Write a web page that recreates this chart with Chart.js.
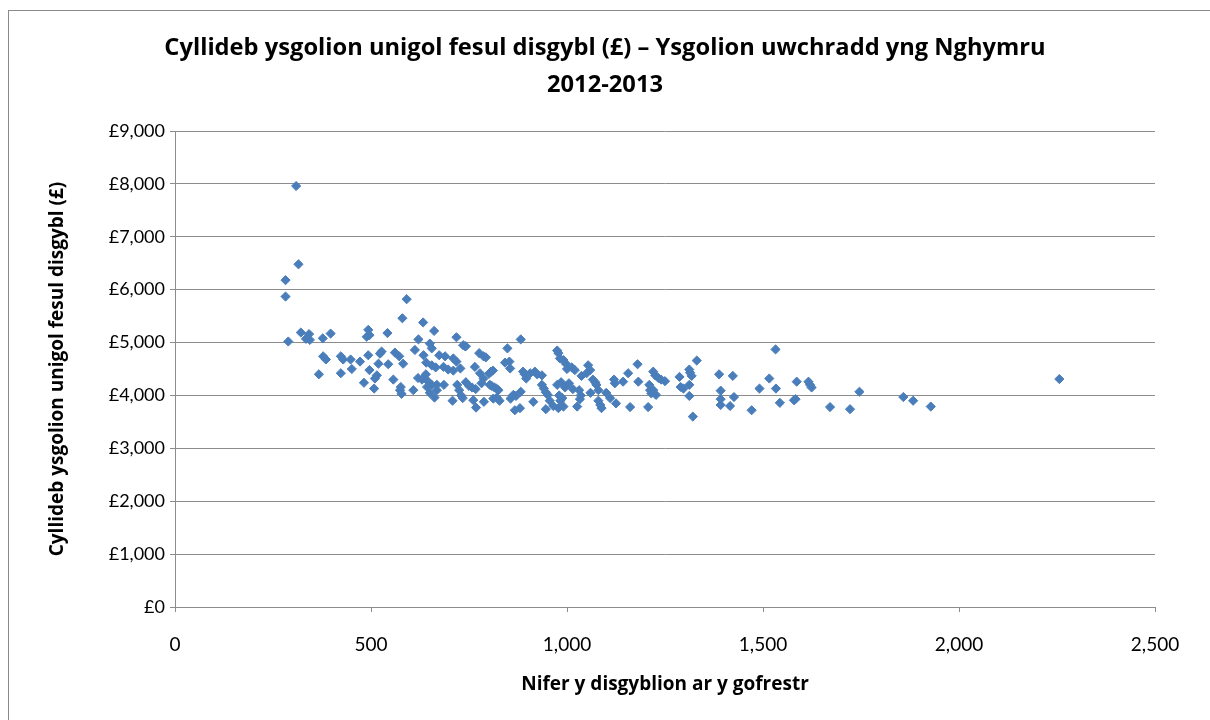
<!DOCTYPE html>
<html>
<head>
<meta charset="utf-8">
<script src="https://cdn.jsdelivr.net/npm/chart.js@4.4.1/dist/chart.umd.min.js"></script>
<style>
  html, body { margin: 0; padding: 0; background: #fff; overflow: hidden; }
  #frame { position: absolute; left: 8px; top: 10px; width: 1220px; height: 730px; border: 1.5px solid #8a8a8a; box-sizing: border-box; }
  #wrap { position: absolute; left: 0; top: 0; width: 1210px; height: 720px; }
</style>
</head>
<body>
<div id="frame"></div>
<div id="wrap"><canvas id="c" width="1210" height="720"></canvas></div>
<script>
const titleLines = ["Cyllideb ysgolion unigol fesul disgybl (£) – Ysgolion uwchradd yng Nghymru", "2012-2013"];
const xAxisTitle = "Nifer y disgyblion ar y gofrestr";
const yAxisTitle = "Cyllideb ysgolion unigol fesul disgybl (£)";
const xTicks = [0, 500, 1000, 1500, 2000, 2500];
const yTicks = [0, 1000, 2000, 3000, 4000, 5000, 6000, 7000, 8000, 9000];

const pupils = [
 309,315,282,282,289,321,334,342,344,377,397,378,385,367,423,429,448,423,451,472,
 493,496,489,493,496,482,508,515,519,523,527,510,542,544,557,561,572,582,580,591,
 574,578,576,608,620,630,640,645,655,612,621,633,634,650,655,661,641,655,665,643,
 650,662,668,674,689,685,686,668,697,710,718,718,740,710,728,708,720,725,730,734,
 735,742,776,787,793,765,778,787,782,742,750,758,767,761,768,788,801,806,811,803,
 808,815,820,825,812,821,828,842,853,855,888,892,906,896,863,870,856,867,880,882,
 882,848,914,918,924,936,936,941,946,951,946,956,965,975,978,982,991,997,1000,1012,
 1020,975,985,995,1005,1015,980,988,983,978,991,1031,1035,1033,1026,1037,1054,1059,1050,1066,
 1072,1075,1080,1060,1080,1085,1088,1100,1110,1125,1120,1122,1143,1156,1180,1182,1161,1207,1212,1210,
 1220,1225,1233,1240,1250,1220,1215,1227,1287,1290,1297,1312,1314,1318,1312,1312,1331,1321,1388,1423,
 1392,1392,1392,1426,1416,1471,1491,1516,1532,1533,1543,1579,1583,1586,1616,1620,1624,1671,1722,1746,
 1858,1883,1928,2256
];
const budget = [
 7960,6480,6180,5870,5020,5190,5070,5160,5050,5080,5170,4740,4680,4400,4740,4680,4680,4420,4500,4640,
 5240,5140,5110,4760,4480,4240,4130,4380,4600,4790,4830,4320,5180,4590,4300,4810,4740,4600,5460,5820,
 4100,4030,4160,4100,4330,4300,4400,4270,4200,4860,5060,5380,4760,4980,4890,5220,4620,4570,4530,4160,
 4050,3960,4100,4760,4740,4540,4200,4200,4490,4700,4640,5100,4930,4470,4510,3900,4200,4100,4000,3950,
 4950,4930,4800,4740,4720,4540,4420,4320,4230,4250,4180,4150,4120,3910,3770,3880,4410,4450,4470,4200,
 4180,4150,4130,4100,3940,3960,3900,4620,4640,4510,4450,4400,4420,4320,4010,3990,3940,3720,3760,4070,
 5060,4890,3880,4450,4400,4380,4200,4130,4060,4010,3740,3900,3800,4850,4800,4700,4670,4600,4500,4530,
 4480,4200,4250,4150,4230,4120,4000,3950,3900,3760,3790,4100,4000,3930,3790,4370,4570,4480,4420,4300,
 4250,4200,4100,4050,3900,3820,3760,4050,3950,3850,4300,4230,4260,4420,4590,4260,3780,3780,4100,4200,
 4450,4380,4330,4300,4270,4100,4040,4010,4350,4160,4130,4490,4430,4370,4200,3990,4660,3600,4400,4370,
 4090,3930,3820,3970,3800,3720,4130,4320,4870,4130,3860,3910,3930,4260,4260,4200,4150,3780,3740,4070,
 3970,3900,3790,4310
];

const points = pupils.map((p, i) => ({ x: p, y: budget[i] }));

const FONT = "Lato, 'Open Sans', sans-serif";
const BOLD_FONT = "'Open Sans', Lato, sans-serif";
const gridGray = '#8c8c8c';

new Chart(document.getElementById('c'), {
  type: 'scatter',
  data: {
    datasets: [{
      data: points,
      pointStyle: 'rectRot',
      pointRadius: 4.6,
      pointHoverRadius: 4.6,
      backgroundColor: '#4A7EBB',
      borderColor: '#4A7EBB',
      borderWidth: 1
    }]
  },
  options: {
    responsive: false,
    animation: false,
    events: [],
    layout: { autoPadding: false, padding: { left: 0, right: 0, top: 0, bottom: 0 } },
    plugins: {
      legend: { display: false },
      tooltip: { enabled: false },
      title: {
        display: true,
        text: titleLines,
        color: '#000',
        font: { family: BOLD_FONT, size: 23.7, weight: 'bold', lineHeight: '37px' },
        padding: { top: 29.5, bottom: 27.5 }
      }
    },
    scales: {
      x: {
        type: 'linear',
        min: 0, max: 2500,
        afterBuildTicks: s => { s.ticks = xTicks.map(v => ({ value: v })); },
        afterFit: s => { s.height = 113; },
        ticks: {
          color: '#000',
          font: { family: FONT, size: 19 },
          padding: 21,
          maxRotation: 0,
          callback: v => v.toLocaleString('en-GB')
        },
        grid: { display: true, drawOnChartArea: false, drawTicks: true, tickLength: 5, color: gridGray },
        border: { display: true, color: gridGray, width: 1 },
        title: {
          display: true,
          text: xAxisTitle,
          color: '#000',
          font: { family: BOLD_FONT, size: 19, weight: 'bold' },
          padding: { top: 0, bottom: 24 }
        }
      },
      y: {
        type: 'linear',
        min: 0, max: 9000,
        afterBuildTicks: s => { s.ticks = yTicks.map(v => ({ value: v })); },
        afterFit: s => { s.width = 175; },
        ticks: {
          color: '#000',
          font: { family: FONT, size: 18 },
          padding: 5,
          callback: v => '£' + v.toLocaleString('en-GB')
        },
        grid: { display: true, drawOnChartArea: true, drawTicks: true, tickLength: 5, color: gridGray, lineWidth: 1 },
        border: { display: true, color: gridGray, width: 1 },
        title: {
          display: true,
          text: yAxisTitle,
          color: '#000',
          font: { family: BOLD_FONT, size: 19, weight: 'bold' },
          padding: { top: 46, bottom: 0 }
        }
      },
      rightSpacer: {
        type: 'linear',
        position: 'right',
        display: true,
        min: 0, max: 1,
        afterFit: s => { s.width = 55; },
        ticks: { display: false },
        grid: { display: false, drawOnChartArea: false },
        border: { display: false },
        title: { display: false }
      }
    }
  }
});
</script>
</body>
</html>
